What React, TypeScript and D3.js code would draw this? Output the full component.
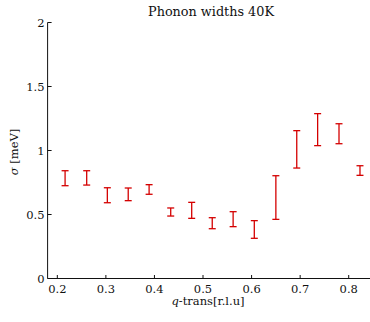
import React from "react";
import * as d3 from "d3";

const qValues = [0.216, 0.2605, 0.303, 0.346, 0.389, 0.4335, 0.4767, 0.519, 0.562, 0.6056, 0.65, 0.693, 0.736, 0.78, 0.8232];
const sigmaLow = [0.725, 0.73, 0.592, 0.608, 0.658, 0.488, 0.47, 0.389, 0.405, 0.314, 0.462, 0.863, 1.038, 1.053, 0.806];
const sigmaHigh = [0.842, 0.842, 0.709, 0.707, 0.733, 0.551, 0.595, 0.475, 0.522, 0.452, 0.803, 1.155, 1.288, 1.209, 0.881];
const xTicks = [0.2, 0.3, 0.4, 0.5, 0.6, 0.7, 0.8];
const yTicks = [0, 0.5, 1, 1.5, 2];
const xTickLabels = ["0.2", "0.3", "0.4", "0.5", "0.6", "0.7", "0.8"];
const yTickLabels = ["0", "0.5", "1", "1.5", "2"];

const W = 370;
const H = 322;
const FONT = "'DejaVu Serif', serif";

export default function App() {
  const x = d3.scaleLinear().domain([0.18, 0.85]).range([47.6, 373]);
  const y = d3.scaleLinear().domain([0, 2]).range([278.5, 22.5]);
  const cap = 3.5;
  const red = "#d40000";
  return (
    <svg width={W} height={H} style={{ position: "absolute", left: 0, top: 0, background: "#fff" }}>
      <text x={211} y={16} textAnchor="middle" fontFamily={FONT} fontSize={12.8} fill="#111">
        Phonon widths 40K
      </text>
      {/* axes */}
      <line x1={x(0.18)} x2={x(0.18)} y1={y(0)} y2={y(2)} stroke="#111" strokeWidth={1} />
      <line x1={x(0.18)} x2={W} y1={y(0)} y2={y(0)} stroke="#111" strokeWidth={1} />
      {yTicks.map((t, i) => (
        <g key={"y" + i}>
          <line x1={x(0.18)} x2={x(0.18) + 4} y1={y(t)} y2={y(t)} stroke="#111" />
          <text x={44.5} y={y(t)} dy="0.36em" textAnchor="end" fontFamily={FONT} fontSize={11.5} fill="#111">
            {yTickLabels[i]}
          </text>
        </g>
      ))}
      {xTicks.map((t, i) => (
        <g key={"x" + i}>
          <line x1={x(t)} x2={x(t)} y1={y(0)} y2={y(0) - 3.5} stroke="#111" />
          <text x={x(t)} y={292.5} textAnchor="middle" fontFamily={FONT} fontSize={11.5} fill="#111">
            {xTickLabels[i]}
          </text>
        </g>
      ))}
      <text x={208} y={305} textAnchor="middle" fontFamily={FONT} fontSize={11.5} fill="#111">
        <tspan fontStyle="italic">q</tspan>-trans[r.l.u]
      </text>
      <text transform="translate(18,152) rotate(-90)" textAnchor="middle" fontFamily={FONT} fontSize={11.5} fill="#111">
        <tspan fontStyle="italic">σ</tspan> [meV]
      </text>
      {qValues.map((q, i) => {
        const cx = x(q);
        const y1 = y(sigmaHigh[i]);
        const y2 = y(sigmaLow[i]);
        return (
          <g key={"e" + i} stroke={red} strokeWidth={1.3}>
            <line x1={cx} x2={cx} y1={y1} y2={y2} />
            <line x1={cx - cap} x2={cx + cap} y1={y1} y2={y1} />
            <line x1={cx - cap} x2={cx + cap} y1={y2} y2={y2} />
          </g>
        );
      })}
    </svg>
  );
}
